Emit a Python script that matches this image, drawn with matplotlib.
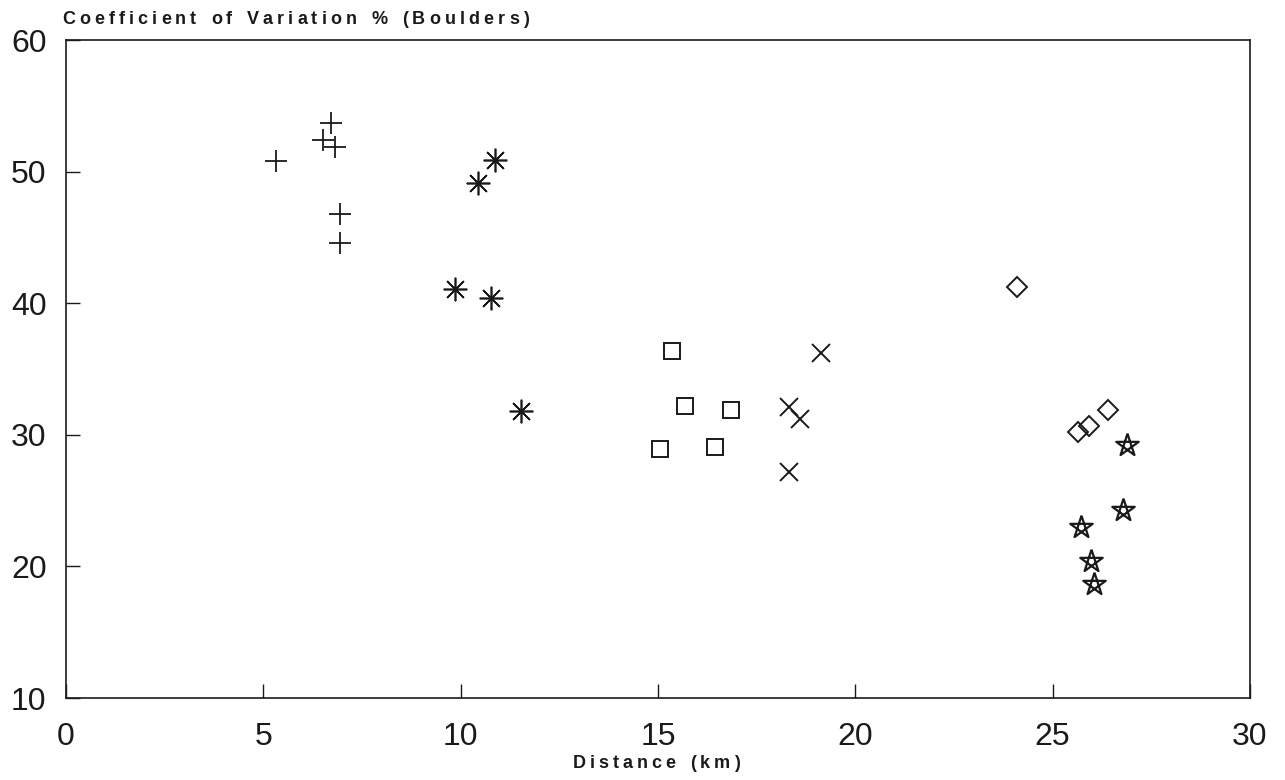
import numpy as np
import matplotlib
matplotlib.use("Agg")
from matplotlib import pyplot as plt

# site groups
plus_x = [5.33, 6.72, 6.52, 6.82, 6.94, 6.94]
plus_y = [50.8, 53.7, 52.4, 51.9, 46.8, 44.6]

aster_x = [10.86, 10.43, 9.85, 10.76, 11.52]
aster_y = [50.9, 49.1, 41.1, 40.4, 31.8]

square_x = [15.35, 15.68, 16.84, 15.05, 16.44]
square_y = [36.4, 32.2, 31.9, 28.9, 29.1]

cross_x = [19.12, 18.31, 18.61, 18.33]
cross_y = [36.2, 32.1, 31.2, 27.2]

diamond_x = [24.09, 25.63, 25.93, 26.39]
diamond_y = [41.2, 30.2, 30.7, 31.9]

star_x = [26.89, 26.79, 25.73, 25.96, 26.04]
star_y = [29.2, 24.3, 23.0, 20.4, 18.7]

x_ticks = [0, 5, 10, 15, 20, 25, 30]
y_ticks = [10, 20, 30, 40, 50, 60]

ink = "#1a1a1a"
plt.rcParams['font.family'] = ['Liberation Sans', 'DejaVu Sans']

# pentagram outline (star drawn with crossing lines)
k = np.arange(6) * 2
pentagram = list(zip(np.sin(2 * np.pi * k / 5), np.cos(2 * np.pi * k / 5)))


def spaced_text(fig, x0, y0, s, gap, center=False, **kw):
    # old plotter lettering is widely spaced, so place the letters one by one
    r = fig.canvas.get_renderer()
    widths = []
    for ch in s:
        t = fig.text(0, 0, ch if ch != " " else "n", **kw)
        widths.append(t.get_window_extent(r).width * (0.6 if ch == " " else 1))
        t.remove()
    total = sum(widths) + gap * (len(s) - 1)
    x = x0 - total / 2 if center else x0
    for ch, w in zip(s, widths):
        fig.text(x / fig.bbox.width, y0, ch, ha="left", va="center", **kw)
        x += w + gap


fig = plt.figure(figsize=(12.85, 7.8), dpi=100)
ax = fig.add_axes([66 / 1285, 1 - 698 / 780, 1184 / 1285, 658 / 780])

kw = dict(linestyle="none", color=ink, markeredgecolor=ink)
ax.plot(plus_x, plus_y, marker="+", markersize=16, markeredgewidth=1.3, **kw)
ax.plot(aster_x, aster_y, marker=(8, 2, 0), markersize=17, markeredgewidth=1.2, **kw)
ax.plot(square_x, square_y, marker="s", markersize=12, markeredgewidth=1.4,
        markerfacecolor="none", **kw)
ax.plot(cross_x, cross_y, marker="x", markersize=13, markeredgewidth=1.4, **kw)
ax.plot(diamond_x, diamond_y, marker="D", markersize=10, markeredgewidth=1.4,
        markerfacecolor="none", **kw)
ax.plot(star_x, star_y, marker=pentagram, markersize=17, markeredgewidth=1.6,
        markerfacecolor="none", **kw)

ax.set_xlim(0, 30)
ax.set_ylim(10, 60)
ax.set_xticks(x_ticks)
ax.set_yticks(y_ticks)
ax.tick_params(direction="in", length=10, width=1, colors=ink, labelsize=23)
ax.tick_params(axis="x", pad=17)
ax.tick_params(axis="y", pad=14)
for s in ax.spines.values():
    s.set_linewidth(1.2)
    s.set_color(ink)

spaced_text(fig, 62, 1 - 19 / 780, "Coefficient of Variation % (Boulders)", 4.1,
            fontsize=13, fontweight="bold", color=ink)
spaced_text(fig, 656, 1 - 763 / 780, "Distance (km)", 4.0, center=True,
            fontsize=13, fontweight="bold", color=ink)

fig.savefig("out.png", dpi=100)
